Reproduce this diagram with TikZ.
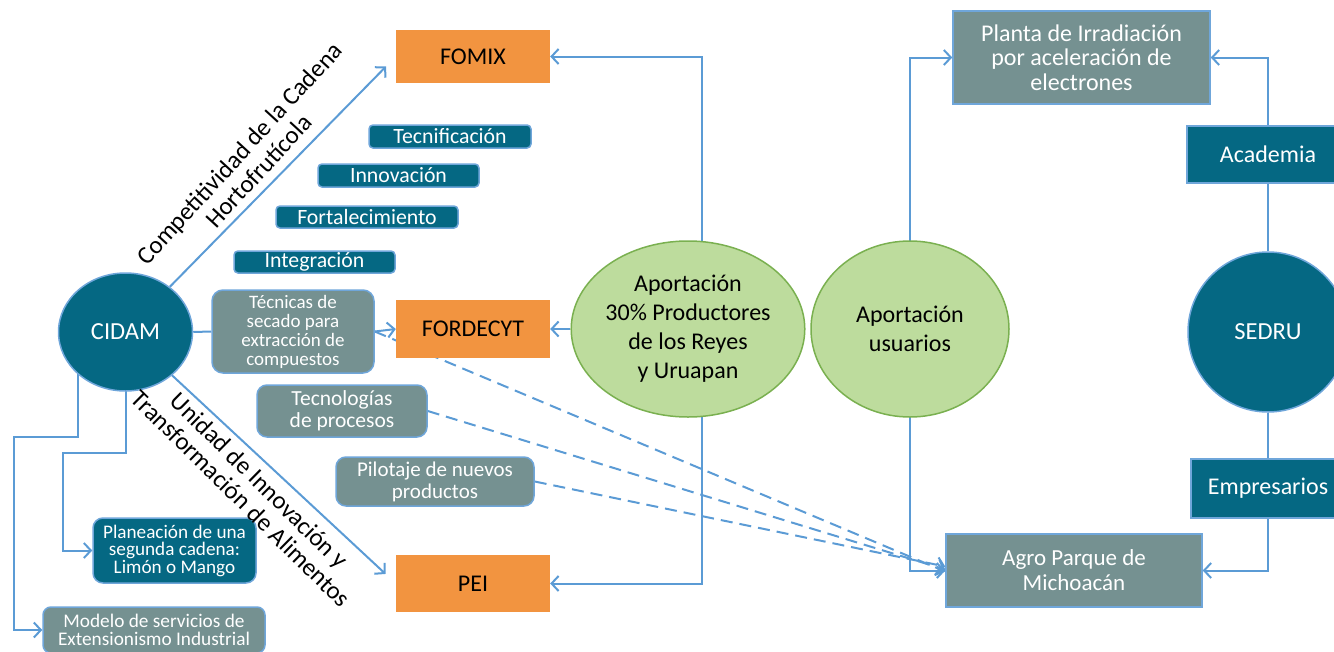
\documentclass[tikz,border=0pt]{standalone}
\usepackage{fontspec}
\setmainfont{Carlito}
\usetikzlibrary{arrows.meta,shapes.geometric,backgrounds}
\definecolor{lblue}{RGB}{91,155,213}
\definecolor{bdr}{RGB}{111,166,218}
\definecolor{dteal}{RGB}{5,104,131}
\definecolor{gteal}{RGB}{117,145,145}
\definecolor{orng}{RGB}{242,148,64}
\definecolor{lgreen}{RGB}{189,220,157}
\definecolor{dgreen}{RGB}{122,176,80}
\begin{document}
\begin{tikzpicture}[x=1pt,y=-1pt,
  conn/.style={draw=lblue,line width=2pt},
  arr/.style={conn,-{Straight Barb[length=7pt,width=15pt]}},
  dsh/.style={arr,dash pattern=on 12pt off 7pt},
  obox/.style={fill=orng,inner sep=0pt,text=black,font=\fontsize{24}{26}\selectfont},
  tlabel/.style={fill=dteal,draw=bdr,line width=1.5pt,rounded corners=4pt,inner sep=0pt,text=white,font=\fontsize{21.8}{22}\selectfont},
  gbox/.style={fill=gteal,draw=bdr,line width=1.5pt,inner sep=0pt,text=white,align=center},
  tbox/.style={fill=dteal,draw=bdr,line width=1.5pt,inner sep=0pt,text=white,align=center},
  gell/.style={ellipse,fill=lgreen,draw=dgreen,line width=1.5pt,inner sep=0pt,text=black,align=center,font=\fontsize{24}{29}\selectfont},
  tell/.style={ellipse,fill=dteal,draw=bdr,line width=1.5pt,inner sep=0pt,text=white,font=\fontsize{24.5}{26}\selectfont},
  rot/.style={align=center,text=black,font=\fontsize{25}{26}\selectfont,inner sep=0pt}
]
\clip (0,0) rectangle (1334,651);

% nodes
\node[tell,minimum width=134pt,minimum height=118pt] (CIDAM) at (125.5,332) {CIDAM};
\node[obox,minimum width=154pt,minimum height=53pt] (FOMIX) at (473,56.5) {FOMIX};
\node[obox,minimum width=154pt,minimum height=58pt] (FORDECYT) at (473,329) {FORDECYT};
\node[obox,minimum width=154pt,minimum height=57pt] (PEI) at (473,583.5) {PEI};

\node[tlabel,minimum width=162pt,minimum height=23pt] (Tecnif) at (450,136.5) {Tecnificación};
\node[tlabel,minimum width=161pt,minimum height=23pt] (Innov) at (398.5,175.5) {Innovación};
\node[tlabel,minimum width=182pt,minimum height=22pt] (Fortal) at (367,217) {Fortalecimiento};
\node[tlabel,minimum width=161pt,minimum height=22pt] (Integr) at (314.5,262) {Integración};

\node[gbox,rounded corners=11pt,minimum width=162pt,minimum height=83pt,font=\fontsize{19}{19}\selectfont] (Tecnicas) at (293,331.5) {Técnicas de\\secado para\\extracción de\\compuestos};
\node[gbox,rounded corners=10pt,minimum width=170pt,minimum height=52pt,font=\fontsize{21.5}{22}\selectfont] (Tecnol) at (342,411) {Tecnologías\\de procesos};
\node[gbox,rounded corners=10pt,minimum width=198pt,minimum height=49pt,font=\fontsize{21}{22}\selectfont] (Pilot) at (435,481.5) {Pilotaje de nuevos\\productos};
\node[tbox,rounded corners=10pt,minimum width=163pt,minimum height=65pt,font=\fontsize{19.2}{17.5}\selectfont] (Planea) at (174.5,550.5) {Planeación de una\\segunda cadena:\\Limón o Mango};
\node[gbox,rounded corners=8pt,minimum width=222pt,minimum height=46pt,font=\fontsize{19.3}{18}\selectfont] (Modelo) at (154,630) {Modelo de servicios de\\Extensionismo Industrial};

\node[gell,minimum width=198pt,minimum height=176pt] (Aport) at (688,329) {Aportación\\30\% Productores\\de los Reyes\\y Uruapan};
\node[gell,minimum width=198pt,minimum height=176pt] (Usuarios) at (910,329) {Aportación\\usuarios};

\node[gbox,minimum width=257pt,minimum height=93pt,font=\fontsize{24}{24.5}\selectfont] (Planta) at (1081.5,57.5) {Planta de Irradiación\\por aceleración de\\electrones};
\node[gbox,minimum width=256pt,minimum height=73pt,font=\fontsize{23}{25}\selectfont] (Agro) at (1074,570.5) {Agro Parque de\\Michoacán};
\node[tbox,minimum width=162pt,minimum height=57pt,font=\fontsize{24}{26}\selectfont] (Academia) at (1268,154.5) {Academia};
\node[tbox,minimum width=154pt,minimum height=59pt,font=\fontsize{24}{26}\selectfont] (Empres) at (1268,488.5) {Empresarios};
\node[tell,circle,minimum size=160pt] (SEDRU) at (1268,332) {SEDRU};

% rotated labels
\node[rot,rotate=47.5] (lblComp) at (249,162) {Competitividad de la Cadena\\Hortofrutícola};
\node[rot,rotate=-44.6] (lblUnid) at (250.5,489.5) {Unidad de Innovación y\\Transformación de Alimentos};

\begin{scope}[on background layer]
  \draw[arr,shorten >=14pt] (CIDAM) -- (FOMIX.west);
  \draw[arr,shorten >=14pt] (CIDAM) -- (PEI.west);
  \draw[conn] (CIDAM.east) -- (Tecnicas.west);
  \draw[arr] (Tecnicas.east) -- (FORDECYT.west);
  \coordinate (m1) at (14,437);
  \coordinate (p1) at (63,453);
  \draw[arr] ([xshift=-47.5pt]CIDAM.center) |- (m1) |- (Modelo.west);
  \draw[arr] (CIDAM.center) |- (p1) |- (Planea.west);
  \draw[arr] ([xshift=14pt]Aport.center) |- (FOMIX.east);
  \draw[arr] ([xshift=14pt]Aport.center) |- (PEI.east);
  \draw[arr] (Aport.west) -- (FORDECYT.east);
  \draw[arr] (Usuarios.center) |- (Planta.west);
  \draw[arr] (Usuarios.center) |- (Agro.west);
  \draw[conn] (SEDRU) -- (Academia);
  \draw[arr] (Academia.north) |- (Planta.east);
  \draw[conn] (SEDRU) -- (Empres);
  \draw[arr] (Empres.south) |- (Agro.east);
  \draw[dsh] (Tecnicas.east) -- ([yshift=-1pt]Agro.west);
  \draw[dsh] (Tecnol.east) -- ([yshift=1pt]Agro.west);
  \draw[dsh] (Pilot.east) -- ([yshift=4pt]Agro.west);
\end{scope}
\end{tikzpicture}
\end{document}
